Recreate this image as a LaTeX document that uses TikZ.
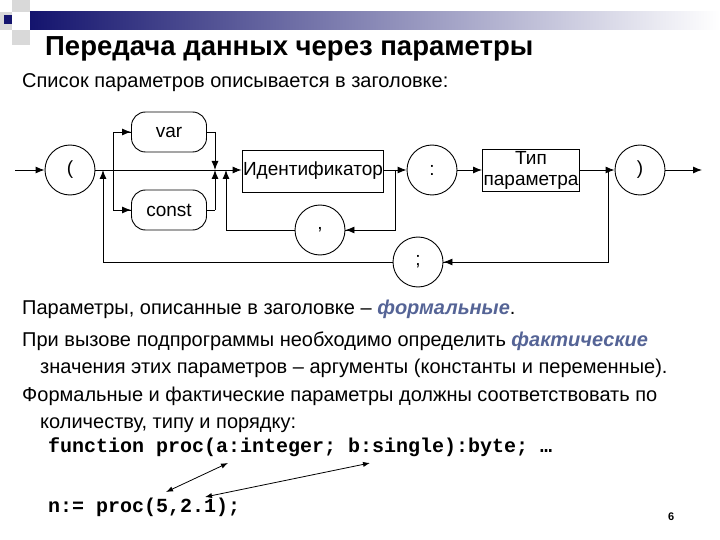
\documentclass[tikz,border=0pt]{standalone}
\usepackage{fontspec}
\setmainfont{Liberation Sans}
\setmonofont{Liberation Mono}
\usetikzlibrary{arrows.meta}
\definecolor{ttl}{RGB}{20,20,110}
\definecolor{emph}{RGB}{85,100,150}
\tikzset{
  every node/.style={font=\fontsize{19}{22}\selectfont},
  circ/.style={draw,circle,minimum size=50pt,inner sep=0pt,line width=0.9pt},
  rbox/.style={draw,rounded corners=14pt,minimum width=75pt,minimum height=40pt,line width=0.9pt},
  sbox/.style={draw,minimum height=42pt,line width=0.9pt,inner sep=1pt},
  ln/.style={line width=0.9pt,-{Latex[length=9pt,width=7pt]}},
  pl/.style={line width=0.9pt},
  txt/.style={anchor=base west,inner sep=0pt,font=\fontsize{20}{24}\selectfont},
  code/.style={anchor=base west,inner sep=0pt,font=\fontsize{20}{22}\selectfont\ttfamily\bfseries}
}
\begin{document}
\begin{tikzpicture}[x=1pt,y=-1pt]
\useasboundingbox (0,0) rectangle (720,540);
% header decoration
\shade[left color=ttl,right color=white] (30,12) rectangle (720,30);
\fill[gray!30] (12,0) rectangle (30,12);
\fill[gray!30] (0,12) rectangle (12,30);
\fill[gray!30] (12,30) rectangle (30,45);
\fill[ttl] (4,15) rectangle (12,24);
\node[txt,font=\fontsize{27.5}{30}\selectfont\bfseries] (title) at (45,56) {Передача данных через параметры};
\node[txt] (l1) at (22,88) {Список параметров описывается в заголовке:};
% diagram
\node[circ] (lp) at (70,170) {(};
\node[rbox] (var) at (169,132) {var};
\node[rbox] (const) at (169,210) {const};
\node[sbox,minimum width=140pt] (id) at (313,171) {Идентификатор};
\node[circ] (col) at (432,170) {:};
\node[sbox,minimum width=97pt,align=center,font=\fontsize{19}{21}\selectfont] (typ) at (531,170) {Тип\\параметра};
\node[circ] (rp) at (640,170) {)};
\node[circ] (com) at (320,230) {,};
\node[circ] (sem) at (418,262) {;};
\coordinate (in) at (15,170);
\coordinate (out) at (702,170);
\draw[ln] (in) -- (lp);
\draw[ln] (lp) -- (id.west|-lp.east);
\draw[pl] (113,170) |- (var.west) ;
\draw[ln] (113,132) -- (var.west);
\draw[pl] (113,170) |- (const.west);
\draw[ln] (113,210) -- (const.west);
\draw[pl] (var.east) -- (215,132);
\draw[ln] (215,132) -- (215,170);
\draw[pl] (const.east) -- (215,210);
\draw[ln] (215,210) -- (215,170);
\draw[ln] (id.east|-col.west) -- (col);
\draw[pl] (395,170) |- (com.east);
\draw[ln] (395,230) -- (com.east);
\draw[pl] (com.west) -| (226,230);
\draw[ln] (226,230) -- (226,170);
\draw[ln] (col) -- (typ);
\draw[ln] (typ.east|-rp.west) -- (rp);
\draw[ln] (rp) -- (out);
\draw[pl] (608,170) |- (sem.east);
\draw[ln] (608,262) -- (sem.east);
\draw[pl] (sem.west) -| (103,262);
\draw[ln] (103,262) -- (103,170);
% text
\node[txt] (l2) at (22,314) {Параметры, описанные в заголовке – \textcolor{emph}{\textbf{\textit{формальные}}}.};
\node[txt] (l3) at (22,346) {При вызове подпрограммы необходимо определить \textcolor{emph}{\textbf{\textit{фактические}}}};
\node[txt] (l4) at (40,373) {значения этих параметров – аргументы (константы и переменные).};
\node[txt] (l5) at (22,401) {Формальные и фактические параметры должны соответствовать по};
\node[txt] (l6) at (40,428) {количеству, типу и порядку:};
\node[code] (c1) at (48,452) {function proc(a:integer; b:single):byte; …};
\node[code] (c2) at (48,512) {n:= proc(5,2.1);};
\coordinate (a1) at (228,463);
\coordinate (a2) at (166,492);
\coordinate (b1) at (370,463);
\coordinate (b2) at (205,497);
\draw[line width=0.8pt,{Latex[length=7pt]}-{Latex[length=7pt]}] (a1) -- (a2);
\draw[line width=0.8pt,{Latex[length=7pt]}-{Latex[length=7pt]}] (b1) -- (b2);
\node[txt,font=\fontsize{11}{12}\selectfont\bfseries] (pg) at (668,520) {6};
\end{tikzpicture}
\end{document}
